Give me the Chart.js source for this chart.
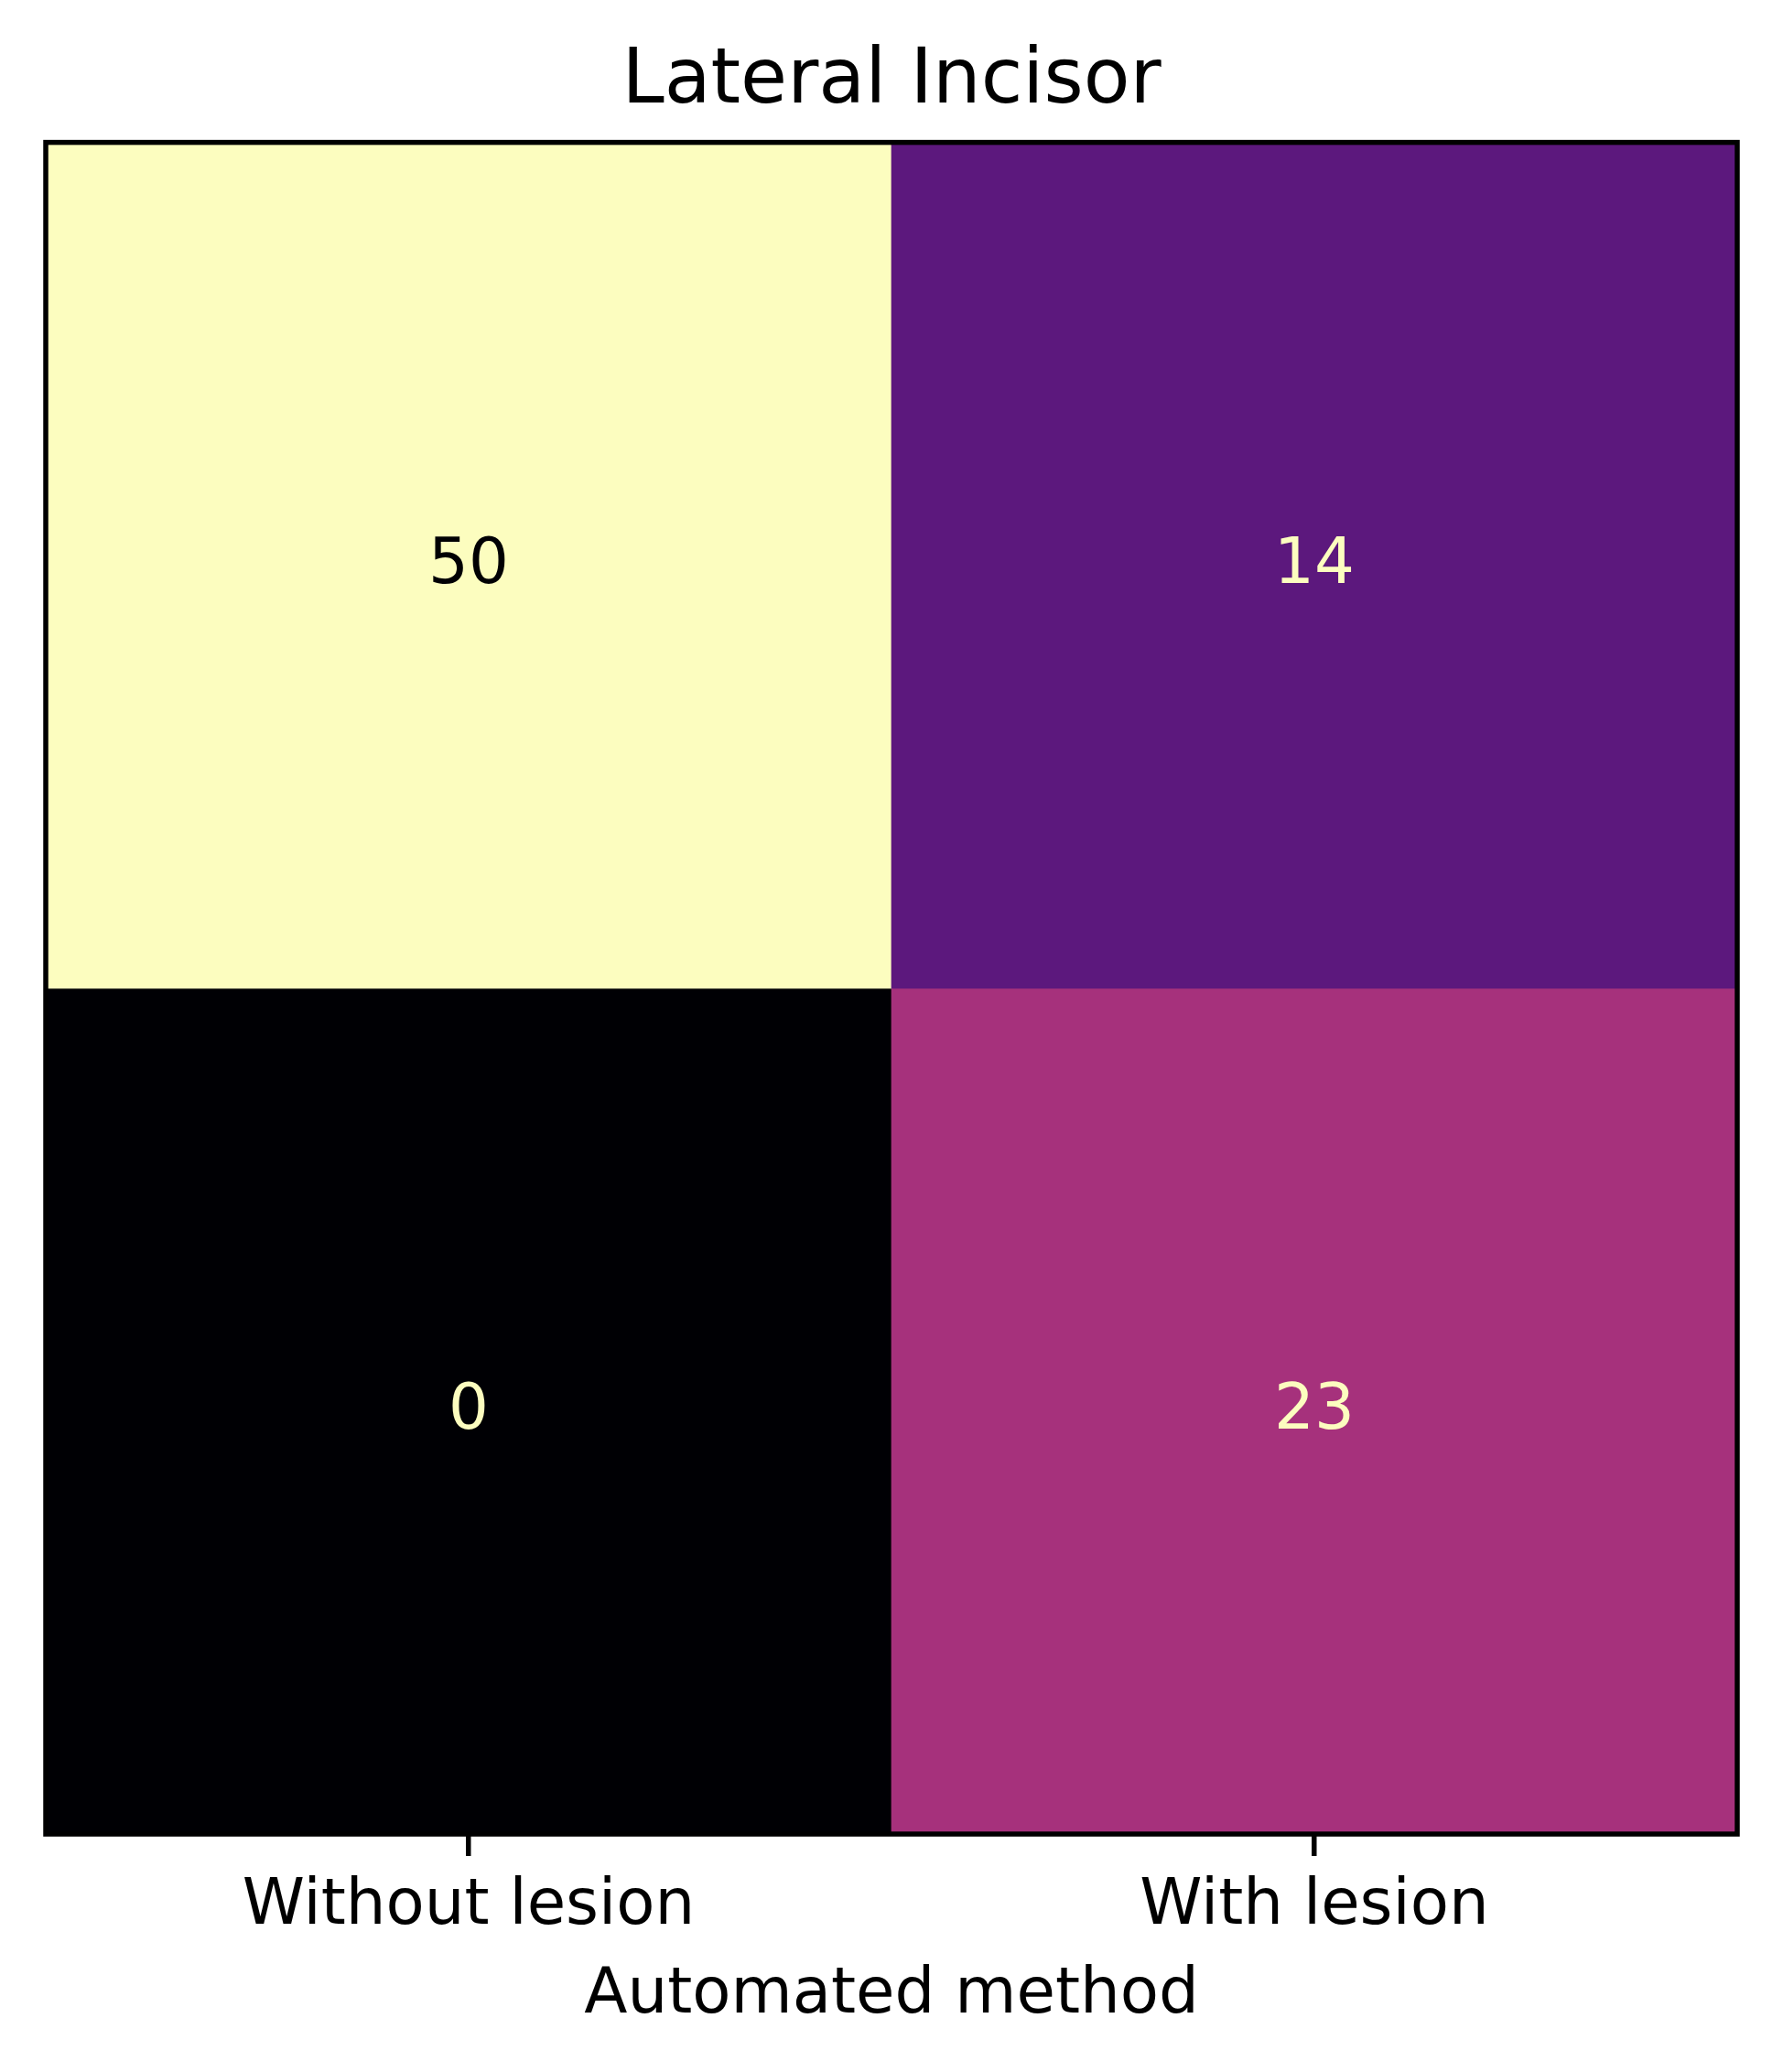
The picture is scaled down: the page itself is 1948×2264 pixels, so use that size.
<!DOCTYPE html>
<html>
<head>
<meta charset="utf-8">
<script src="https://cdn.jsdelivr.net/npm/chart.js@4.4.1/dist/chart.umd.min.js"></script>
<style>
  html, body { margin: 0; padding: 0; background: #ffffff; }
  #wrap { width: 1948px; height: 2264px; position: relative; }
</style>
</head>
<body>
<div id="wrap"><canvas id="c" width="1948" height="2264"></canvas></div>
<script>
// ---- data ----
const titleText = 'Lateral Incisor';
const xAxisTitle = 'Automated method';
const categories = ['Without lesion', 'With lesion'];
const topRowValues = [50, 14];
const bottomRowValues = [0, 23];

// ---- magma colormap ----
const magmaStops = ['#000004','#140e36','#3b0f70','#641a80','#8c2981','#b73779','#de4968','#f7705c','#fe9f6d','#fecf92','#fcfdbf'];
function hexToRgb(h) { return [parseInt(h.slice(1,3),16), parseInt(h.slice(3,5),16), parseInt(h.slice(5,7),16)]; }
function magma(t) {
  t = Math.max(0, Math.min(1, t));
  const p = t * (magmaStops.length - 1);
  const i = Math.min(Math.floor(p), magmaStops.length - 2);
  const f = p - i;
  const a = hexToRgb(magmaStops[i]), b = hexToRgb(magmaStops[i + 1]);
  const c = a.map((v, k) => Math.round(v + (b[k] - v) * f));
  return 'rgb(' + c.join(',') + ')';
}
const allValues = topRowValues.concat(bottomRowValues);
const vMin = Math.min(...allValues), vMax = Math.max(...allValues);
const norm = v => (v - vMin) / (vMax - vMin);
const threshold = (vMin + vMax) / 2;

const FONT = "'DejaVu Sans', 'Liberation Sans', sans-serif";

const cellLabels = {
  id: 'cellLabels',
  afterDatasetsDraw(chart) {
    const ctx = chart.ctx;
    ctx.save();
    ctx.font = '69px ' + FONT;
    ctx.textAlign = 'center';
    ctx.textBaseline = 'alphabetic';
    chart.data.datasets.forEach((ds, di) => {
      const meta = chart.getDatasetMeta(di);
      meta.data.forEach((el, i) => {
        const v = ds.values[i];
        const props = el.getProps(['x', 'y', 'base'], true);
        const cy = (props.y + props.base) / 2;
        ctx.fillStyle = v < threshold ? magma(1) : magma(0);
        ctx.fillText(String(v), props.x, cy + 0.275 * 69);
      });
    });
    ctx.restore();
  }
};

const frame = {
  id: 'frame',
  afterDraw(chart) {
    const a = chart.chartArea, ctx = chart.ctx;
    ctx.save();
    ctx.strokeStyle = '#000000';
    ctx.lineWidth = 5.5;
    ctx.strokeRect(a.left, a.top, a.right - a.left, a.bottom - a.top);
    ctx.restore();
  }
};

new Chart(document.getElementById('c'), {
  type: 'bar',
  data: {
    labels: categories,
    datasets: [
      {
        values: topRowValues,
        data: topRowValues.map(() => [1, 2]),
        backgroundColor: topRowValues.map(v => magma(norm(v))),
        borderWidth: 0,
        barPercentage: 1.0,
        categoryPercentage: 1.0,
        grouped: false
      },
      {
        values: bottomRowValues,
        data: bottomRowValues.map(() => [0, 1]),
        backgroundColor: bottomRowValues.map(v => magma(norm(v))),
        borderWidth: 0,
        barPercentage: 1.0,
        categoryPercentage: 1.0,
        grouped: false
      }
    ]
  },
  options: {
    responsive: false,
    animation: false,
    devicePixelRatio: 1,
    layout: { padding: { left: 50, right: 50, top: 0, bottom: 0 } },
    plugins: {
      legend: { display: false },
      tooltip: { enabled: false },
      title: {
        display: true,
        text: titleText,
        color: '#000000',
        font: { family: FONT, size: 83, weight: 'normal' },
        padding: { top: 41, bottom: 15 }
      }
    },
    scales: {
      x: {
        type: 'category',
        offset: true,
        grid: {
          display: true,
          offset: false,
          drawOnChartArea: false,
          drawTicks: true,
          tickLength: 24,
          lineWidth: 5.5,
          color: '#000000'
        },
        border: { display: false },
        ticks: {
          color: '#000000',
          font: { family: FONT, size: 69 },
          padding: 15,
          maxRotation: 0
        },
        title: {
          display: true,
          text: xAxisTitle,
          color: '#000000',
          font: { family: FONT, size: 69 },
          padding: { top: 0, bottom: 42 }
        },
        afterFit(scale) { scale.height = 260; }
      },
      y: {
        display: false,
        min: 0,
        max: 2
      }
    }
  },
  plugins: [cellLabels, frame]
});
</script>
</body>
</html>
